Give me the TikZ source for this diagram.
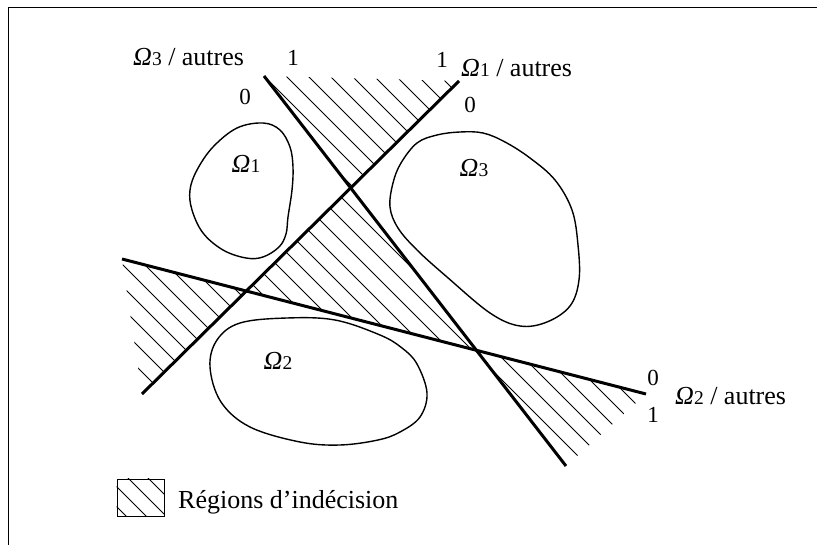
\documentclass[tikz,border=0pt]{standalone}
\usepackage{fontspec}
\setmainfont{Liberation Serif}
\newcommand{\omg}[1]{{\itshape Ω}{\fontsize{19.5}{22}\selectfont #1}}
\begin{document}
\begin{tikzpicture}[x=1pt,y=-1pt,
  sep/.style={line width=3pt},
  blob/.style={line width=1.4pt},
  hatchline/.style={line width=0.75pt},
  frameline/.style={line width=1pt},
  lbl/.style={inner sep=0pt, font=\fontsize{26}{30}\selectfont},
  dig/.style={inner sep=0pt, font=\fontsize{23}{26}\selectfont}]
\useasboundingbox (0,0) rectangle (817,545);
% frame
\coordinate (F1) at (8,545);
\coordinate (F2) at (8,8);
\coordinate (F3) at (817,8);
\draw[frameline] (F1) -- (F2) -- (F3);
% separating lines end points
\coordinate (A1) at (264,76);
\coordinate (A2) at (566,466);
\coordinate (B1) at (142,394);
\coordinate (B2) at (459,81);
\coordinate (C1) at (122,259);
\coordinate (C2) at (646,394);
\coordinate (AB) at (intersection of A1--A2 and B1--B2);
\coordinate (BC) at (intersection of B1--B2 and C1--C2);
\coordinate (AC) at (intersection of A1--A2 and C1--C2);
% hatched regions
\begin{scope}
  \clip (A1) -- (B2) -- (AB) -- cycle
        (AB) -- (BC) -- (AC) -- cycle
        (C1) -- (BC) -- (B1) -- cycle
        (AC) -- (C2) -- (A2) -- cycle;
  \foreach \c in {-538,-516,...,826}
    \draw[hatchline] (\c,0) -- ({\c+545},545);
\end{scope}
% blobs
\draw[blob] plot[smooth cycle, tension=0.6] coordinates {(263,123) (280,130) (290,147) (293,167) (292,190) (288,217) (286,234) (279,247) (263,257) (246,258) (223,250) (203,233) (192,210) (190,190) (197,170) (213,147) (237,128)};
\draw[blob] plot[smooth cycle, tension=0.6] coordinates {(390,207) (393,183) (401,163) (417,143) (437,135) (460,132) (483,133) (505,142) (530,158) (555,180) (572,210) (578,245) (579,280) (570,306) (547,322) (520,326) (490,313) (447,277) (417,250) (398,228)};
\draw[blob] plot[smooth cycle, tension=0.6] coordinates {(210,367) (217,340) (240,323) (287,318) (335,320) (380,335) (402,348) (417,364) (427,393) (420,417) (400,432) (378,440) (340,445) (300,442) (250,427) (221,402)};
% separating lines
\draw[sep] (A1) -- (A2);
\draw[sep] (B1) -- (B2);
\draw[sep] (C1) -- (C2);
% labels
\node[lbl, anchor=base west] (l3) at (133,66) {\omg{3} / autres};
\node[dig, anchor=base] (a1) at (293,66) {1};
\node[dig, anchor=base] (a0) at (245,105) {0};
\node[dig, anchor=base] (b1) at (442,68) {1};
\node[lbl, anchor=base west] (l1) at (461,77) {\omg{1} / autres};
\node[dig, anchor=base] (b0) at (470,113) {0};
\node[lbl, anchor=base] (o1) at (246,173) {\omg{1}};
\node[lbl, anchor=base] (o3) at (474,177) {\omg{3}};
\node[lbl, anchor=base] (o2) at (278,370) {\omg{2}};
\node[dig, anchor=base] (c0) at (653,385) {0};
\node[dig, anchor=base] (c1) at (653,422) {1};
\node[lbl, anchor=base west] (l2) at (675,405) {\omg{2} / autres};
% legend
\node[draw, line width=0.9pt, minimum width=47pt, minimum height=37pt, inner sep=0pt] (legbox) at (140.5,497.5) {};
\begin{scope}
  \clip (legbox.north west) rectangle (legbox.south east);
  \foreach \c in {-390,-370,-350,-330}
    \draw[hatchline] ({\c+450},450) -- ({\c+545},545);
\end{scope}
\node[lbl, anchor=base west] (leg) at (178,508) {Régions d’indécision};
\end{tikzpicture}
\end{document}
